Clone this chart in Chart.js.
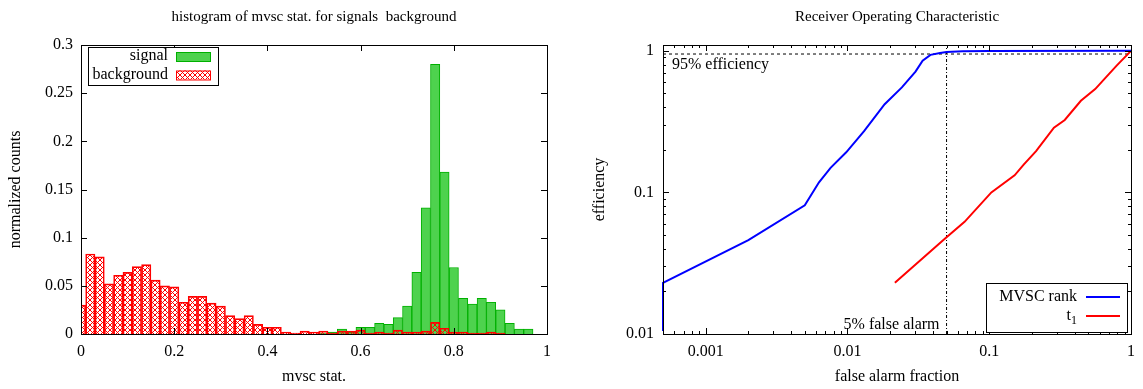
<!DOCTYPE html>
<html>
<head>
<meta charset="utf-8">
<script src="https://cdn.jsdelivr.net/npm/chart.js@4.4.0/dist/chart.umd.min.js"></script>
<style>
html, body { margin: 0; padding: 0; background: #fff; }
#wrap { position: relative; width: 1143px; height: 389px; overflow: hidden; }
.box { position: absolute; top: 0; height: 389px; }
</style>
</head>
<body>
<div id="wrap">
  <div class="box" style="left:0;width:571px"><canvas id="histChart" width="571" height="389"></canvas></div>
  <div class="box" style="left:571px;width:572px"><canvas id="rocChart" width="572" height="389"></canvas></div>
</div>
<script>
// ---- histogram data (bin centres, width 0.02) ----
const binCentres = [0.00, 0.02, 0.04, 0.06, 0.08, 0.10, 0.12, 0.14, 0.16, 0.18,
                    0.20, 0.22, 0.24, 0.26, 0.28, 0.30, 0.32, 0.34, 0.36, 0.38,
                    0.40, 0.42, 0.44, 0.46, 0.48, 0.50, 0.52, 0.54, 0.56, 0.58,
                    0.60, 0.62, 0.64, 0.66, 0.68, 0.70, 0.72, 0.74, 0.76, 0.78,
                    0.80, 0.82, 0.84, 0.86, 0.88, 0.90, 0.92, 0.94, 0.96, 0.98, 1.00];
const signalCounts = [0, 0, 0, 0, 0, 0, 0, 0, 0, 0,
                      0, 0, 0, 0, 0, 0, 0, 0, 0, 0,
                      0, 0, 0, 0, 0, 0, 0.001, 0.002, 0.005, 0.002,
                      0.007, 0.007, 0.011, 0.010, 0.017, 0.029, 0.064, 0.131, 0.280, 0.168,
                      0.069, 0.037, 0.031, 0.037, 0.033, 0.025, 0.011, 0.005, 0.005, 0, 0];
const backgroundCounts = [0.030, 0.083, 0.080, 0.052, 0.061, 0.064, 0.070, 0.072, 0.056, 0.050,
                          0.049, 0.033, 0.039, 0.039, 0.032, 0.029, 0.019, 0.016, 0.019, 0.010,
                          0.007, 0.007, 0.002, 0.001, 0.003, 0.002, 0.003, 0.001, 0.003, 0.003,
                          0.004, 0.001, 0.002, 0.001, 0.004, 0.002, 0.002, 0.003, 0.012, 0.006,
                          0.002, 0.002, 0.001, 0.001, 0.002, 0.001, 0, 0, 0, 0, 0];
const histXTicks = [0, 0.2, 0.4, 0.6, 0.8, 1];
const histYTicks = [0, 0.05, 0.1, 0.15, 0.2, 0.25, 0.3];

// ---- ROC data ----
const mvscFalseAlarm = [0.0005, 0.0005, 0.002, 0.005, 0.0063, 0.0076, 0.0098, 0.0131, 0.0183,
                        0.0242, 0.0302, 0.0339, 0.0385, 0.045, 0.05, 0.065, 0.1, 1];
const mvscEfficiency = [0.0105, 0.023, 0.046, 0.081, 0.118, 0.149, 0.192, 0.271, 0.42,
                        0.552, 0.713, 0.853, 0.937, 0.965, 0.98, 0.993, 0.997, 1.0];
const t1FalseAlarm = [0.0216, 0.0486, 0.067, 0.1035, 0.151, 0.175, 0.214, 0.286, 0.341,
                      0.443, 0.559, 0.665, 0.792, 1.0];
const t1Efficiency = [0.023, 0.047, 0.062, 0.100, 0.132, 0.157, 0.196, 0.287, 0.325,
                      0.444, 0.537, 0.650, 0.787, 1.0];
const efficiencyMark = 0.95;   // 95% efficiency
const falseAlarmMark = 0.05;   // 5% false alarm
const rocXRange = [0.0005, 1];
const rocYRange = [0.01, 1.1];
const rocXTicks = [0.001, 0.01, 0.1, 1];
const rocYTicks = [0.01, 0.1, 1];

const FONT = "'Liberation Serif', 'DejaVu Serif', serif";
Chart.defaults.font.family = FONT;
Chart.defaults.font.size = 16;
Chart.defaults.color = '#000';

// cross hatch used for the background histogram
function makeHatch() {
    const c = document.createElement('canvas');
    c.width = 5; c.height = 5;
    const g = c.getContext('2d');
    g.strokeStyle = 'rgb(255,0,0)';
    g.lineWidth = 1;
    g.beginPath();
    g.moveTo(0, 0); g.lineTo(5, 5);
    g.moveTo(5, 0); g.lineTo(0, 5);
    g.stroke();
    return g.createPattern(c, 'repeat');
}
const hatch = makeHatch();

const fmt = v => String(+Number(v).toFixed(4));

// gnuplot like frame: border, inward ticks, title, legend box
const gnuplotFrame = {
    id: 'gnuplotFrame',
    afterDraw(chart, args, opts) {
        const {ctx, chartArea: a} = chart;
        const xs = chart.scales.x, ys = chart.scales.y;
        ctx.save();
        ctx.strokeStyle = '#000';
        ctx.lineWidth = 1;
        const seg = (x1, y1, x2, y2) => { ctx.beginPath(); ctx.moveTo(x1, y1); ctx.lineTo(x2, y2); ctx.stroke(); };
        const ticks = (scale, values, len) => values.forEach(v => {
            const p = Math.round(scale.getPixelForValue(v)) + 0.5;
            if (scale.isHorizontal()) {
                if (p < a.left || p > a.right + 1) return;
                seg(p, a.bottom, p, a.bottom - len);
                seg(p, a.top, p, a.top + len);
            } else {
                if (p < a.top || p > a.bottom + 1) return;
                seg(a.left, p, a.left + len, p);
                seg(a.right, p, a.right - len, p);
            }
        });
        ticks(xs, xs.ticks.map(t => t.value), 6);
        ticks(ys, ys.ticks.map(t => t.value), 6);
        if (opts.minorX) ticks(xs, opts.minorX, 3);
        if (opts.minorY) ticks(ys, opts.minorY, 3);
        ctx.strokeRect(Math.round(a.left) + 0.5, Math.round(a.top) + 0.5,
                       Math.round(a.right - a.left), Math.round(a.bottom - a.top));

        // title
        ctx.fillStyle = '#000';
        ctx.font = '15px ' + FONT;
        ctx.textAlign = 'center';
        ctx.textBaseline = 'middle';
        ctx.fillText(opts.title, (a.left + a.right) / 2, 17);

        // legend
        const L = opts.legend;
        const bx = L.right ? a.right - L.right - L.width : a.left + L.left;
        const by = L.bottom ? a.bottom - L.bottom - L.height : a.top + L.top;
        ctx.fillStyle = '#fff';
        ctx.fillRect(bx, by, L.width, L.height);
        ctx.strokeStyle = '#000';
        ctx.strokeRect(Math.round(bx) + 0.5, Math.round(by) + 0.5, L.width, L.height);
        L.items.forEach((idx, i) => {
            const ds = chart.data.datasets[idx];
            const cy = by + L.firstRow + i * L.rowGap;
            const textRight = bx + L.textRight;
            ctx.fillStyle = '#000';
            ctx.font = '16px ' + FONT;
            ctx.textAlign = 'right';
            ctx.textBaseline = 'middle';
            const parts = ds.label.split('_');
            if (parts.length > 1) {
                ctx.font = '12px ' + FONT;
                const sw = ctx.measureText(parts[1]).width;
                ctx.fillText(parts[1], textRight, cy + 5);
                ctx.font = '16px ' + FONT;
                ctx.fillText(parts[0], textRight - sw, cy);
            } else {
                ctx.fillText(ds.label, textRight, cy);
            }
            const sx = bx + L.sampleLeft, sw = L.sampleWidth;
            if (L.kind === 'bar') {
                ctx.fillStyle = '#fff';
                ctx.fillRect(sx, cy - 4, sw, 9);
                ctx.fillStyle = ds.backgroundColor;
                ctx.fillRect(sx, cy - 4, sw, 9);
                ctx.strokeStyle = ds.borderColor;
                ctx.strokeRect(sx + 0.5, cy - 4 + 0.5, sw, 9);
            } else {
                ctx.strokeStyle = ds.borderColor;
                ctx.lineWidth = ds.borderWidth;
                seg(sx, cy, sx + sw, cy);
                ctx.lineWidth = 1;
            }
        });

        // annotation texts
        (opts.notes || []).forEach(n => {
            ctx.fillStyle = '#000';
            ctx.font = '16px ' + FONT;
            ctx.textAlign = n.align;
            ctx.textBaseline = 'middle';
            const x = n.xValue !== undefined ? xs.getPixelForValue(n.xValue) + n.dx : a.left + n.dx;
            const y = n.yValue !== undefined ? ys.getPixelForValue(n.yValue) + n.dy : a.bottom + n.dy;
            ctx.fillText(n.text, x, y);
        });
        ctx.restore();
    }
};

// ---------- histogram ----------
new Chart(document.getElementById('histChart'), {
    type: 'bar',
    data: {
        datasets: [{
            label: 'signal',
            data: binCentres.map((x, i) => ({x: x, y: signalCounts[i]})),
            backgroundColor: 'rgb(78, 210, 78)',
            borderColor: 'rgb(0, 176, 0)',
            borderWidth: 1,
            order: 2
        }, {
            label: 'background',
            data: binCentres.map((x, i) => ({x: x, y: backgroundCounts[i]})),
            backgroundColor: hatch,
            borderColor: 'rgb(255, 0, 0)',
            borderWidth: 1,
            order: 1
        }]
    },
    options: {
        responsive: false,
        animation: false,
        grouped: false,
        barPercentage: 1,
        categoryPercentage: 1,
        layout: { padding: { top: 45, right: 24, left: 0, bottom: 0 } },
        plugins: {
            legend: { display: false },
            tooltip: { enabled: false },
            gnuplotFrame: {
                title: 'histogram of mvsc stat. for signals  background',
                legend: { kind: 'bar', items: [0, 1], left: 7, top: 2, width: 130, height: 38,
                          firstRow: 9, rowGap: 18.5, textRight: 80, sampleLeft: 88, sampleWidth: 34 }
            }
        },
        scales: {
            x: {
                type: 'linear', min: 0, max: 1, offset: false,
                grid: { display: false, drawTicks: false },
                border: { display: false },
                afterBuildTicks: s => { s.ticks = histXTicks.map(v => ({value: v})); },
                ticks: { padding: 8, callback: fmt, font: { size: 16 } },
                title: { display: true, text: 'mvsc stat.', padding: { top: 0, bottom: 3 }, font: { size: 16 } },
                afterFit: s => { s.height = 55; }
            },
            y: {
                min: 0, max: 0.3,
                grid: { display: false, drawTicks: false },
                border: { display: false },
                afterBuildTicks: s => { s.ticks = histYTicks.map(v => ({value: v})); },
                ticks: { padding: 8, callback: fmt, font: { size: 16 } },
                title: { display: true, text: 'normalized counts', padding: { top: 6, bottom: 0 }, font: { size: 16 } },
                afterFit: s => { s.width = 81; }
            }
        }
    },
    plugins: [gnuplotFrame]
});

// ---------- ROC ----------
const minorLog = (lo, hi) => {
    const out = [];
    for (let d = lo; d < hi; d *= 10) for (let k = 2; k <= 9; k++) out.push(+(k * d).toPrecision(3));
    return out;
};

new Chart(document.getElementById('rocChart'), {
    type: 'scatter',
    data: {
        datasets: [{
            label: 'MVSC rank',
            data: mvscFalseAlarm.map((x, i) => ({x: x, y: mvscEfficiency[i]})),
            showLine: true, pointRadius: 0,
            borderColor: 'rgb(0, 0, 255)', borderWidth: 2,
            clip: { left: 2, top: 2, right: 2, bottom: 0 }
        }, {
            label: 't_1',
            data: t1FalseAlarm.map((x, i) => ({x: x, y: t1Efficiency[i]})),
            showLine: true, pointRadius: 0,
            borderColor: 'rgb(255, 0, 0)', borderWidth: 2,
            clip: { left: 2, top: 2, right: 2, bottom: 0 }
        }, {
            label: '95% efficiency',
            data: [{x: rocXRange[0], y: efficiencyMark}, {x: rocXRange[1], y: efficiencyMark}],
            showLine: true, pointRadius: 0,
            borderColor: '#000', borderWidth: 1, borderDash: [3, 3]
        }, {
            label: '5% false alarm',
            data: [{x: falseAlarmMark, y: rocYRange[0]}, {x: falseAlarmMark, y: rocYRange[1]}],
            showLine: true, pointRadius: 0,
            borderColor: '#000', borderWidth: 1, borderDash: [3, 2, 1, 2]
        }]
    },
    options: {
        responsive: false,
        animation: false,
        layout: { padding: { top: 45, right: 11, left: 0, bottom: 0 } },
        plugins: {
            legend: { display: false },
            tooltip: { enabled: false },
            gnuplotFrame: {
                title: 'Receiver Operating Characteristic',
                minorX: minorLog(0.0001, 1),
                minorY: minorLog(0.01, 1),
                legend: { kind: 'line', items: [0, 1], right: 4, bottom: 2, width: 141, height: 49,
                          firstRow: 14, rowGap: 19, textRight: 91, sampleLeft: 100, sampleWidth: 34 },
                notes: [
                    { text: '95% efficiency', align: 'left', dx: 9, yValue: efficiencyMark, dy: 11 },
                    { text: '5% false alarm', align: 'right', xValue: falseAlarmMark, dx: -7, dy: -9 }
                ]
            }
        },
        scales: {
            x: {
                type: 'logarithmic', min: rocXRange[0], max: rocXRange[1],
                grid: { display: false, drawTicks: false },
                border: { display: false },
                afterBuildTicks: s => { s.ticks = rocXTicks.map(v => ({value: v})); },
                ticks: { padding: 8, callback: fmt, font: { size: 16 } },
                title: { display: true, text: 'false alarm fraction', padding: { top: 0, bottom: 3 }, font: { size: 16 } },
                afterFit: s => { s.height = 55; }
            },
            y: {
                type: 'logarithmic', min: rocYRange[0], max: rocYRange[1],
                grid: { display: false, drawTicks: false },
                border: { display: false },
                afterBuildTicks: s => { s.ticks = rocYTicks.map(v => ({value: v})); },
                ticks: { padding: 9, callback: fmt, font: { size: 16 } },
                title: { display: true, text: 'efficiency', padding: { top: 19, bottom: 0 }, font: { size: 16 } },
                afterFit: s => { s.width = 92; }
            }
        }
    },
    plugins: [gnuplotFrame]
});
</script>
</body>
</html>
